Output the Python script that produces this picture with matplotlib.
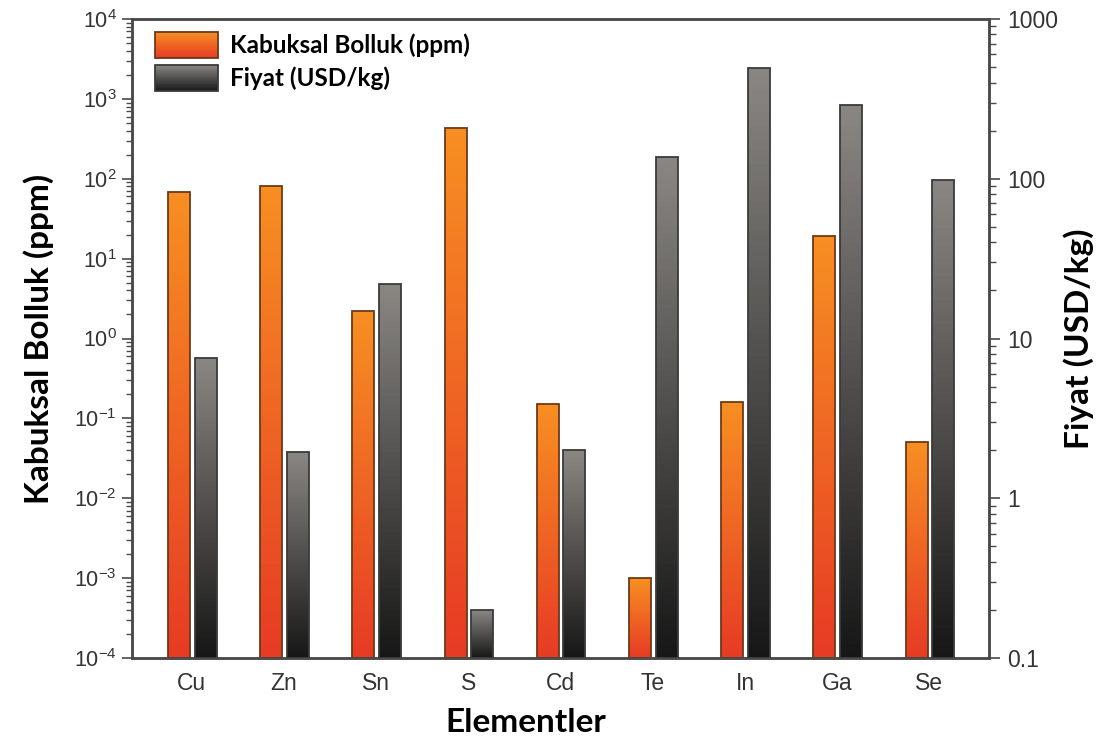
import numpy as np
import matplotlib
matplotlib.use('Agg')
import matplotlib.pyplot as plt
from matplotlib.colors import to_rgb
from matplotlib.patches import Rectangle
from matplotlib.legend_handler import HandlerBase
from matplotlib.ticker import LogLocator, NullFormatter, FuncFormatter

# values
elements = ['Cu', 'Zn', 'Sn', 'S', 'Cd', 'Te', 'In', 'Ga', 'Se']
abundance_ppm = [69, 80, 2.2, 430, 0.15, 0.001, 0.16, 19, 0.051]
price_usd_kg = [7.5, 1.95, 22, 0.2, 2.0, 136, 495, 290, 98]

plt.rcParams['font.family'] = 'Liberation Sans'

ORANGE_TOP, ORANGE_BOT, ORANGE_EDGE = '#f78f22', '#e63a24', '#6b3a1a'
GRAY_TOP, GRAY_BOT, GRAY_EDGE = '#8a8783', '#161616', '#3a3a3a'
TICK_COL = '#333333'
SPINE_COL = '#4a4a4a'
LABEL_FONT = 'Lato'

BAR_W = 0.24
OFFSET = 0.144


def gradient_bar(ax, x, value, floor, c_top, c_bot, edge, n=80):
    # stack thin segments (evenly spaced on the log scale) to fake a vertical gradient
    edges = np.logspace(np.log10(floor), np.log10(value), n + 1)
    t = (np.arange(n) + 0.5) / n
    c0, c1 = np.array(to_rgb(c_bot)), np.array(to_rgb(c_top))
    cols = c0 + (c1 - c0) * t[:, None]
    ax.bar(np.full(n, x), np.diff(edges) * 1.02, bottom=edges[:-1], width=BAR_W,
           color=cols, linewidth=0, antialiased=False, zorder=2)
    ax.bar(x, value - floor, bottom=floor, width=BAR_W, facecolor='none',
           edgecolor=edge, linewidth=1.3, zorder=3)


class GradientHandler(HandlerBase):
    def __init__(self, c_top, c_bot, edge):
        super().__init__()
        self.c_top, self.c_bot, self.edge = c_top, c_bot, edge

    def create_artists(self, legend, orig_handle, xdescent, ydescent,
                       width, height, fontsize, trans):
        n = 30
        c0, c1 = np.array(to_rgb(self.c_bot)), np.array(to_rgb(self.c_top))
        arts = []
        for i in range(n):
            t = (i + 0.5) / n
            arts.append(Rectangle((-xdescent, -ydescent + height * i / n), width,
                                  height / n * 1.05, facecolor=c0 + (c1 - c0) * t,
                                  linewidth=0, antialiased=False, transform=trans))
        arts.append(Rectangle((-xdescent, -ydescent), width, height, facecolor='none',
                              edgecolor=self.edge, linewidth=1.3, transform=trans))
        return arts


fig = plt.figure(figsize=(11.11, 7.47), dpi=100)
ax = fig.add_axes([132 / 1111, 1 - 658 / 747, 857 / 1111, 639 / 747])
ax2 = ax.twinx()

x = np.arange(len(elements))
ax.set_yscale('log')
ax.set_ylim(1e-4, 1e4)
ax2.set_yscale('log')
ax2.set_ylim(0.1, 1000)
ax.set_xlim(-0.649, 8.646)

for xi, v in zip(x, abundance_ppm):
    gradient_bar(ax, xi - OFFSET + 0.005, v, 1e-4, ORANGE_TOP, ORANGE_BOT, ORANGE_EDGE)
for xi, v in zip(x, price_usd_kg):
    gradient_bar(ax2, xi + OFFSET + 0.005, v, 0.1, GRAY_TOP, GRAY_BOT, GRAY_EDGE)

ax.set_xticks(x)
ax.set_xticklabels(elements, fontsize=16.5, color=TICK_COL)
ax.tick_params(axis='x', length=0, pad=10)

ax.yaxis.set_major_locator(LogLocator(base=10, numticks=20))
ax.yaxis.set_minor_locator(LogLocator(base=10, subs=np.arange(2, 10), numticks=100))
ax.yaxis.set_minor_formatter(NullFormatter())
ax.tick_params(axis='y', which='major', length=7, width=1.2, labelsize=15.5,
               labelcolor=TICK_COL, color=SPINE_COL, pad=4)
ax.tick_params(axis='y', which='minor', length=4, width=1.0, color=SPINE_COL)

ax2.yaxis.set_major_locator(LogLocator(base=10, numticks=20))
ax2.yaxis.set_minor_locator(LogLocator(base=10, subs=np.arange(2, 10), numticks=100))
ax2.yaxis.set_minor_formatter(NullFormatter())
ax2.yaxis.set_major_formatter(FuncFormatter(lambda v, p: f'{v:g}'))
ax2.tick_params(axis='y', which='major', length=8, width=1.2, labelsize=16.5,
                labelcolor=TICK_COL, color=SPINE_COL, pad=5)
ax2.tick_params(axis='y', which='minor', length=5, width=1.0, color=SPINE_COL)

for a in (ax, ax2):
    for s in a.spines.values():
        s.set_color(SPINE_COL)
        s.set_linewidth(1.8)

ax.set_xlabel('Elementler', fontsize=24, fontweight='bold', family=LABEL_FONT)
ax.xaxis.set_label_coords(0.46, -0.078)
ax.set_ylabel('Kabuksal Bolluk (ppm)', fontsize=24, fontweight='bold', family=LABEL_FONT,
              labelpad=14)
ax2.set_ylabel('Fiyat (USD/kg)', fontsize=24, fontweight='bold', family=LABEL_FONT,
               labelpad=4)

h1 = Rectangle((0, 0), 1, 1)
h2 = Rectangle((0, 0), 1, 1)
ax2.legend([h1, h2], ['Kabuksal Bolluk (ppm)', 'Fiyat (USD/kg)'],
           handler_map={h1: GradientHandler(ORANGE_TOP, ORANGE_BOT, ORANGE_EDGE),
                        h2: GradientHandler(GRAY_TOP, GRAY_BOT, GRAY_EDGE)},
           loc='upper left', bbox_to_anchor=(23 / 857, 1 - 13 / 639), frameon=False,
           borderpad=0, borderaxespad=0,
           prop={'family': LABEL_FONT, 'weight': 'bold', 'size': 17.5},
           handlelength=2.6, handleheight=1.28, labelspacing=0.29, handletextpad=0.49)

fig.savefig('out.png', dpi=100)
